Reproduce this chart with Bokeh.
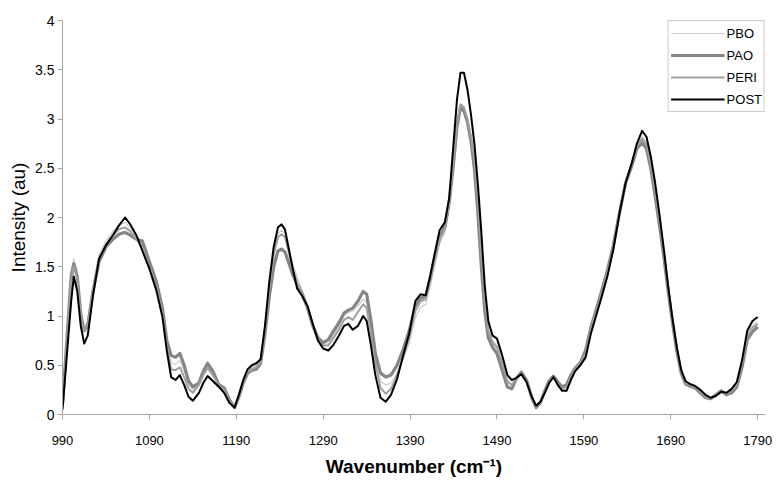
from bokeh.plotting import figure
from bokeh.models import FixedTicker, CustomJSTickFormatter, Range1d, Legend, LegendItem
from bokeh.embed import file_html
from bokeh.resources import INLINE

wavenumber = [990, 995, 1000, 1003, 1007, 1011, 1015, 1019, 1025, 1032, 1040, 1048, 1055, 1062, 1068, 1075, 1082, 1090, 1098, 1105,
              1110, 1115, 1120, 1125, 1130, 1135, 1140, 1147, 1152, 1157, 1163, 1170, 1176, 1182, 1188, 1193, 1198, 1203, 1208, 1213,
              1218, 1223, 1228, 1233, 1238, 1242, 1246, 1250, 1255, 1260, 1266, 1272, 1278, 1284, 1290, 1296, 1302, 1308, 1314, 1319,
              1324, 1330, 1336, 1340, 1345, 1350, 1356, 1362, 1368, 1375, 1382, 1389, 1396, 1402, 1408, 1413, 1418, 1424, 1430, 1435,
              1440, 1444, 1448, 1452, 1456, 1460, 1464, 1468, 1472, 1476, 1480, 1485, 1490, 1496, 1502, 1507, 1512, 1518, 1524, 1530,
              1535, 1540, 1545, 1550, 1555, 1560, 1565, 1570, 1575, 1580, 1586, 1592, 1598, 1604, 1610, 1617, 1624, 1631, 1638, 1645,
              1651, 1657, 1662, 1667, 1672, 1677, 1682, 1687, 1692, 1697, 1702, 1707, 1712, 1718, 1724, 1730, 1736, 1742, 1748, 1754,
              1760, 1766, 1772, 1778, 1784, 1790]

post = [0.05, 0.60, 1.15, 1.40, 1.25, 0.90, 0.72, 0.80, 1.20, 1.58, 1.72, 1.82, 1.92, 2.00, 1.93, 1.82, 1.66, 1.48, 1.26, 0.99,
        0.65, 0.38, 0.35, 0.40, 0.30, 0.18, 0.14, 0.22, 0.32, 0.39, 0.34, 0.28, 0.22, 0.12, 0.07, 0.20, 0.35, 0.46, 0.50, 0.52,
        0.56, 0.90, 1.35, 1.70, 1.90, 1.93, 1.88, 1.70, 1.48, 1.28, 1.20, 1.10, 0.92, 0.75, 0.67, 0.65, 0.71, 0.80, 0.90, 0.92,
        0.86, 0.90, 1.00, 0.95, 0.70, 0.40, 0.17, 0.13, 0.20, 0.36, 0.60, 0.82, 1.15, 1.22, 1.21, 1.40, 1.62, 1.87, 1.95, 2.20,
        2.75, 3.20, 3.47, 3.47, 3.30, 3.05, 2.75, 2.34, 1.85, 1.30, 0.95, 0.80, 0.77, 0.60, 0.40, 0.35, 0.37, 0.41, 0.33, 0.18,
        0.09, 0.13, 0.22, 0.32, 0.38, 0.30, 0.24, 0.24, 0.35, 0.44, 0.50, 0.58, 0.82, 1.00, 1.18, 1.40, 1.68, 2.04, 2.35, 2.55,
        2.75, 2.88, 2.82, 2.62, 2.35, 2.03, 1.68, 1.30, 0.97, 0.68, 0.45, 0.34, 0.31, 0.29, 0.25, 0.20, 0.17, 0.19, 0.23, 0.22,
        0.26, 0.33, 0.55, 0.85, 0.95, 0.99]

pao = [0.10, 0.75, 1.40, 1.53, 1.40, 1.02, 0.85, 0.90, 1.25, 1.55, 1.70, 1.78, 1.83, 1.85, 1.82, 1.78, 1.76, 1.55, 1.35, 1.08,
       0.75, 0.60, 0.58, 0.62, 0.50, 0.34, 0.28, 0.32, 0.44, 0.52, 0.44, 0.30, 0.27, 0.15, 0.07, 0.18, 0.32, 0.42, 0.45, 0.46,
       0.52, 0.82, 1.20, 1.50, 1.66, 1.68, 1.65, 1.55, 1.42, 1.32, 1.22, 1.08, 0.90, 0.78, 0.73, 0.76, 0.85, 0.93, 1.03, 1.06,
       1.08, 1.15, 1.25, 1.22, 0.95, 0.62, 0.42, 0.38, 0.40, 0.50, 0.66, 0.85, 1.10, 1.18, 1.20, 1.38, 1.58, 1.80, 1.90, 2.15,
       2.55, 2.92, 3.12, 3.08, 2.97, 2.78, 2.50, 2.05, 1.50, 1.05, 0.78, 0.68, 0.62, 0.45, 0.28, 0.26, 0.36, 0.43, 0.35, 0.17,
       0.07, 0.12, 0.24, 0.34, 0.39, 0.33, 0.28, 0.30, 0.40, 0.47, 0.53, 0.65, 0.88, 1.06, 1.24, 1.46, 1.72, 2.05, 2.35, 2.52,
       2.70, 2.76, 2.70, 2.50, 2.22, 1.92, 1.60, 1.25, 0.93, 0.64, 0.42, 0.31, 0.29, 0.27, 0.22, 0.17, 0.16, 0.20, 0.24, 0.20,
       0.22, 0.28, 0.48, 0.76, 0.84, 0.89]

peri = [0.08, 0.70, 1.35, 1.50, 1.38, 1.00, 0.85, 0.90, 1.25, 1.58, 1.72, 1.82, 1.88, 1.90, 1.86, 1.78, 1.70, 1.50, 1.30, 1.03,
        0.70, 0.46, 0.45, 0.48, 0.38, 0.26, 0.22, 0.30, 0.40, 0.47, 0.40, 0.29, 0.25, 0.14, 0.07, 0.19, 0.33, 0.43, 0.46, 0.48,
        0.53, 0.85, 1.28, 1.62, 1.80, 1.83, 1.80, 1.66, 1.48, 1.34, 1.22, 1.08, 0.90, 0.76, 0.70, 0.70, 0.78, 0.86, 0.96, 0.99,
        0.96, 1.04, 1.12, 1.08, 0.82, 0.52, 0.27, 0.21, 0.26, 0.40, 0.58, 0.78, 1.05, 1.15, 1.17, 1.35, 1.55, 1.78, 1.88, 2.15,
        2.58, 2.95, 3.15, 3.12, 3.00, 2.82, 2.58, 2.15, 1.62, 1.15, 0.85, 0.73, 0.68, 0.52, 0.33, 0.30, 0.36, 0.42, 0.34, 0.17,
        0.08, 0.12, 0.23, 0.33, 0.38, 0.31, 0.26, 0.28, 0.38, 0.46, 0.52, 0.62, 0.86, 1.04, 1.22, 1.44, 1.70, 2.05, 2.36, 2.54,
        2.72, 2.80, 2.74, 2.54, 2.28, 1.98, 1.64, 1.28, 0.95, 0.66, 0.44, 0.32, 0.30, 0.28, 0.23, 0.18, 0.16, 0.19, 0.23, 0.21,
        0.24, 0.30, 0.52, 0.80, 0.88, 0.92]

pbo = [0.12, 0.80, 1.45, 1.58, 1.45, 1.05, 0.88, 0.95, 1.30, 1.62, 1.76, 1.86, 1.92, 1.95, 1.89, 1.80, 1.68, 1.50, 1.30, 1.03,
       0.72, 0.52, 0.51, 0.55, 0.44, 0.30, 0.25, 0.31, 0.42, 0.49, 0.42, 0.30, 0.26, 0.15, 0.08, 0.20, 0.35, 0.45, 0.48, 0.50,
       0.55, 0.88, 1.30, 1.66, 1.84, 1.87, 1.84, 1.70, 1.52, 1.40, 1.26, 1.10, 0.92, 0.78, 0.71, 0.72, 0.80, 0.90, 1.00, 1.04,
       1.05, 1.10, 1.17, 1.14, 0.88, 0.56, 0.34, 0.30, 0.32, 0.42, 0.56, 0.72, 0.98, 1.09, 1.12, 1.30, 1.50, 1.73, 1.85, 2.12,
       2.55, 2.92, 3.10, 3.08, 2.98, 2.80, 2.56, 2.15, 1.65, 1.18, 0.88, 0.75, 0.70, 0.54, 0.35, 0.31, 0.36, 0.42, 0.34, 0.18,
       0.09, 0.13, 0.23, 0.33, 0.38, 0.31, 0.26, 0.28, 0.38, 0.46, 0.52, 0.62, 0.86, 1.04, 1.22, 1.44, 1.70, 2.05, 2.36, 2.55,
       2.74, 2.82, 2.76, 2.56, 2.30, 2.00, 1.66, 1.29, 0.96, 0.67, 0.44, 0.33, 0.30, 0.28, 0.24, 0.19, 0.17, 0.19, 0.23, 0.21,
       0.24, 0.30, 0.52, 0.80, 0.90, 0.95]

series_names = ["PBO", "PAO", "PERI", "POST"]
x_ticks = [990, 1090, 1190, 1290, 1390, 1490, 1590, 1690, 1790]
y_ticks = [0, 0.5, 1, 1.5, 2, 2.5, 3, 3.5, 4]

FONT = "Liberation Sans"

p = figure(width=772, height=480, output_backend="svg", toolbar_location=None,
           x_range=Range1d(990, 1799), y_range=Range1d(0, 4),
           min_border_left=62, min_border_right=7, min_border_top=20, min_border_bottom=66)
p.outline_line_color = None
p.xgrid.visible = False
p.ygrid.visible = False
p.background_fill_color = "white"
p.border_fill_color = "white"

styles = [
    dict(color="#cccccc", width=1.2),
    dict(color="#858585", width=3.2),
    dict(color="#a0a0a0", width=2.0),
    dict(color="#000000", width=2.0),
]
data = [pbo, pao, peri, post]
renderers = []
for name, ys, st in zip(series_names, data, styles):
    r = p.line(wavenumber, ys, line_color=st["color"], line_width=st["width"], line_join="round")
    renderers.append(r)

legend = Legend(items=[LegendItem(label=n, renderers=[r]) for n, r in zip(series_names, renderers)],
                location="top_right", margin=0, padding=2, spacing=2,
                glyph_width=54, glyph_height=20, label_height=20, label_standoff=2,
                label_text_font=FONT, label_text_font_size="13px", label_text_color="#000000",
                border_line_color="#999999", border_line_width=1,
                background_fill_color="white", background_fill_alpha=1.0)
p.add_layout(legend)

# x axis
p.xaxis.ticker = FixedTicker(ticks=x_ticks)
p.xaxis.axis_line_color = "#a6a6a6"
p.xaxis.major_tick_line_color = "#a6a6a6"
p.xaxis.major_tick_out = 5
p.xaxis.major_tick_in = 0
p.xaxis.minor_tick_line_color = None
p.xaxis.major_label_text_font = FONT
p.xaxis.major_label_text_font_size = "13px"
p.xaxis.major_label_text_color = "#000000"
p.xaxis.major_label_standoff = 16
p.xaxis.axis_label = "Wavenumber (cm\u207b\u00b9)"
p.xaxis.axis_label_text_font = FONT
p.xaxis.axis_label_text_font_size = "19px"
p.xaxis.axis_label_text_font_style = "bold"
p.xaxis.axis_label_text_color = "#000000"
p.xaxis.axis_label_standoff = 8

# y axis
p.yaxis.ticker = FixedTicker(ticks=y_ticks)
p.yaxis.formatter = CustomJSTickFormatter(code="return tick.toString();")
p.yaxis.axis_line_color = "#a6a6a6"
p.yaxis.major_tick_line_color = "#a6a6a6"
p.yaxis.major_tick_out = 5
p.yaxis.major_tick_in = 0
p.yaxis.minor_tick_line_color = None
p.yaxis.major_label_text_font = FONT
p.yaxis.major_label_text_font_size = "14px"
p.yaxis.major_label_text_color = "#000000"
p.yaxis.major_label_standoff = 3
p.yaxis.axis_label = "Intensity (au)"
p.yaxis.axis_label_text_font = FONT
p.yaxis.axis_label_text_font_size = "19px"
p.yaxis.axis_label_text_font_style = "normal"
p.yaxis.axis_label_text_color = "#000000"
p.yaxis.axis_label_standoff = 3

open("out.html", "w").write(file_html(p, INLINE))
